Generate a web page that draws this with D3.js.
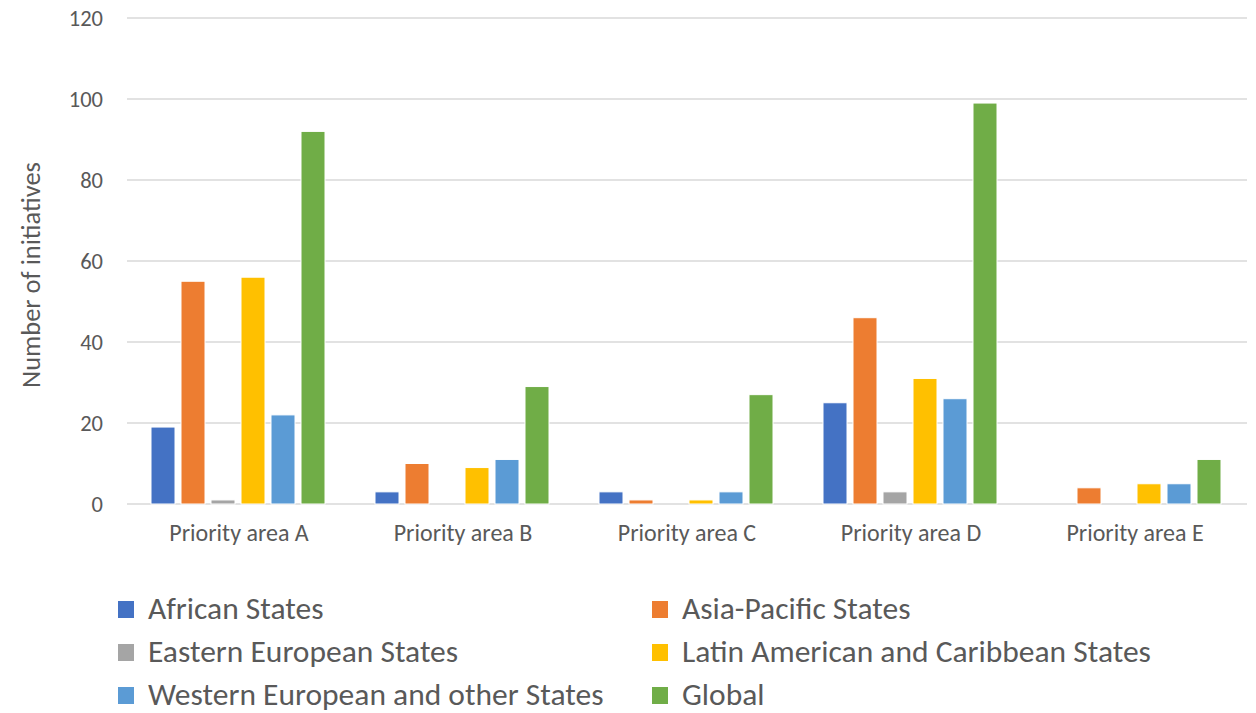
<!DOCTYPE html>
<html><head><meta charset="utf-8">
<script src="https://cdn.jsdelivr.net/npm/d3@7"></script>
<style>body{margin:0;background:#fff;} text{font-family:Carlito,"Open Sans","Liberation Sans",sans-serif;fill:#595959;}</style>
</head><body>
<svg id="c" width="1256" height="713"></svg>
<script>
const categories = ["Priority area A","Priority area B","Priority area C","Priority area D","Priority area E"];
const seriesNames = ["African States","Asia-Pacific States","Eastern European States","Latin American and Caribbean States","Western European and other States","Global"];
const seriesColors = ["#4472C4","#ED7D31","#A5A5A5","#FFC000","#5B9BD5","#70AD47"];
const african = [19,3,3,25,0];
const asiaPacific = [55,10,1,46,4];
const easternEuropean = [1,0,0,3,0];
const latinAmerican = [56,9,1,31,5];
const westernEuropean = [22,11,3,26,5];
const global = [92,29,27,99,11];
const yTicks = [0,20,40,60,80,100,120];
const seriesValues = [african, asiaPacific, easternEuropean, latinAmerican, westernEuropean, global];

(function(){
const FONT = 'Carlito,"Open Sans","Liberation Sans",sans-serif';
const svg = d3.select("#c");
const mL = 127, mR = 1247, mT = 18, mB = 504;
const x0 = d3.scaleBand().domain(categories).range([mL, mR]).paddingInner(0).paddingOuter(0);
const x1 = d3.scaleBand().domain(seriesNames).range([24, 198]).paddingInner(0.2).paddingOuter(0);
const y = d3.scaleLinear().domain([0,120]).range([mB, mT]);

svg.append("g").selectAll("line").data(yTicks).join("line")
  .attr("x1", mL).attr("x2", mR)
  .attr("y1", d=>y(d)).attr("y2", d=>y(d))
  .attr("stroke", "#d9d9d9").attr("stroke-width", 1.3);

const yAxis = svg.append("g").attr("transform", `translate(${mL-16},0)`)
  .call(d3.axisLeft(y).tickValues(yTicks).tickSize(0).tickPadding(8));
yAxis.select(".domain").remove();
yAxis.selectAll("text").style("font-size","22.5px").attr("fill","#595959").style("font-family",FONT);

const xAxis = svg.append("g").attr("transform", `translate(0,${mB})`)
  .call(d3.axisBottom(x0).tickSize(0).tickPadding(20));
xAxis.select(".domain").remove();
xAxis.selectAll("text").style("font-size","24px").attr("fill","#595959").style("font-family",FONT);

const groups = svg.append("g").selectAll("g").data(categories).join("g")
  .attr("transform", d=>`translate(${x0(d)},0)`);
groups.selectAll("rect").data((c,i)=>seriesNames.map((s,j)=>({s, v: seriesValues[j][i], j})))
  .join("rect")
  .attr("x", d=>x1(d.s)).attr("width", x1.bandwidth())
  .attr("y", d=>y(d.v)).attr("height", d=>y(0)-y(d.v))
  .attr("fill", d=>seriesColors[d.j])
  .attr("stroke", "#fff").attr("stroke-width", 1)
  .attr("display", d=>d.v>0?null:"none");

svg.append("text").attr("transform", `translate(40,${(mT+mB)/2+14}) rotate(-90)`)
  .attr("text-anchor","middle").style("font-size","26.5px").style("font-family",FONT).text("Number of initiatives");

const legend = svg.append("g");
const legItems = legend.selectAll("g").data(seriesNames).join("g")
  .attr("transform", (d,i)=>`translate(${i%2===0?118:652},${609 + Math.floor(i/2)*43})`);
legItems.append("rect").attr("x",0).attr("y",-8).attr("width",16).attr("height",17)
  .attr("fill",(d,i)=>seriesColors[i]);
legItems.append("text").attr("x",30).attr("y",0).attr("dy","0.32em")
  .style("font-size","31.5px").style("font-family",FONT).text(d=>d);
})();
</script>
</body></html>
